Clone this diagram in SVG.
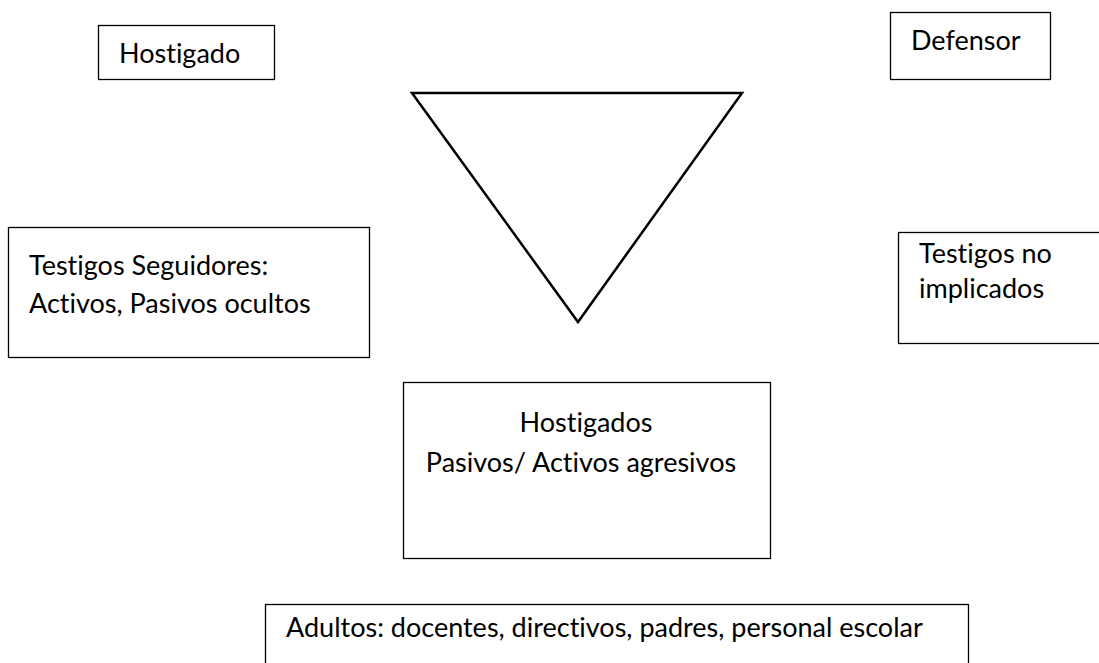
<svg xmlns="http://www.w3.org/2000/svg" width="1099" height="663" viewBox="0 0 1099 663">
<style>
.box{fill:#fff;stroke:#000;stroke-width:1.3}
.t{font-family:Lato,"Liberation Sans",sans-serif;font-size:27px;fill:#000;font-variant-ligatures:none;font-feature-settings:"liga" 0}
.tri{fill:#fff;stroke:#000;stroke-width:2.5;stroke-linejoin:miter}
</style>
<rect width="1099" height="663" fill="#fff"/>
<g id="hostigado"><rect class="box" x="98.5" y="25.5" width="176" height="54"/><text class="t" x="119" y="63">Hostigado</text></g>
<g id="defensor"><rect class="box" x="890.5" y="12.5" width="160" height="67"/><text class="t" x="911" y="50">Defensor</text></g>
<g id="triangulo"><polygon class="tri" points="412,93 742,93 578,322"/></g>
<g id="testigos-seguidores"><rect class="box" x="8.5" y="227.5" width="361" height="130"/><text class="t" x="29" y="275">Testigos Seguidores:</text><text class="t" x="29" y="313">Activos, Pasivos ocultos</text></g>
<g id="testigos-no-implicados"><rect class="box" x="898.5" y="232.5" width="210" height="111"/><text class="t" x="919" y="263">Testigos no</text><text class="t" x="919" y="298">implicados</text></g>
<g id="hostigados"><rect class="box" x="403.5" y="382.5" width="367" height="176"/><text class="t" x="586" y="432" text-anchor="middle">Hostigados</text><text class="t" x="581" y="472" text-anchor="middle">Pasivos/ Activos agresivos</text></g>
<g id="adultos"><rect class="box" x="265.5" y="604.5" width="703" height="70"/><text class="t" x="286" y="637">Adultos: docentes, directivos, padres, personal escolar</text></g>
<g id="connectors"></g>
</svg>
